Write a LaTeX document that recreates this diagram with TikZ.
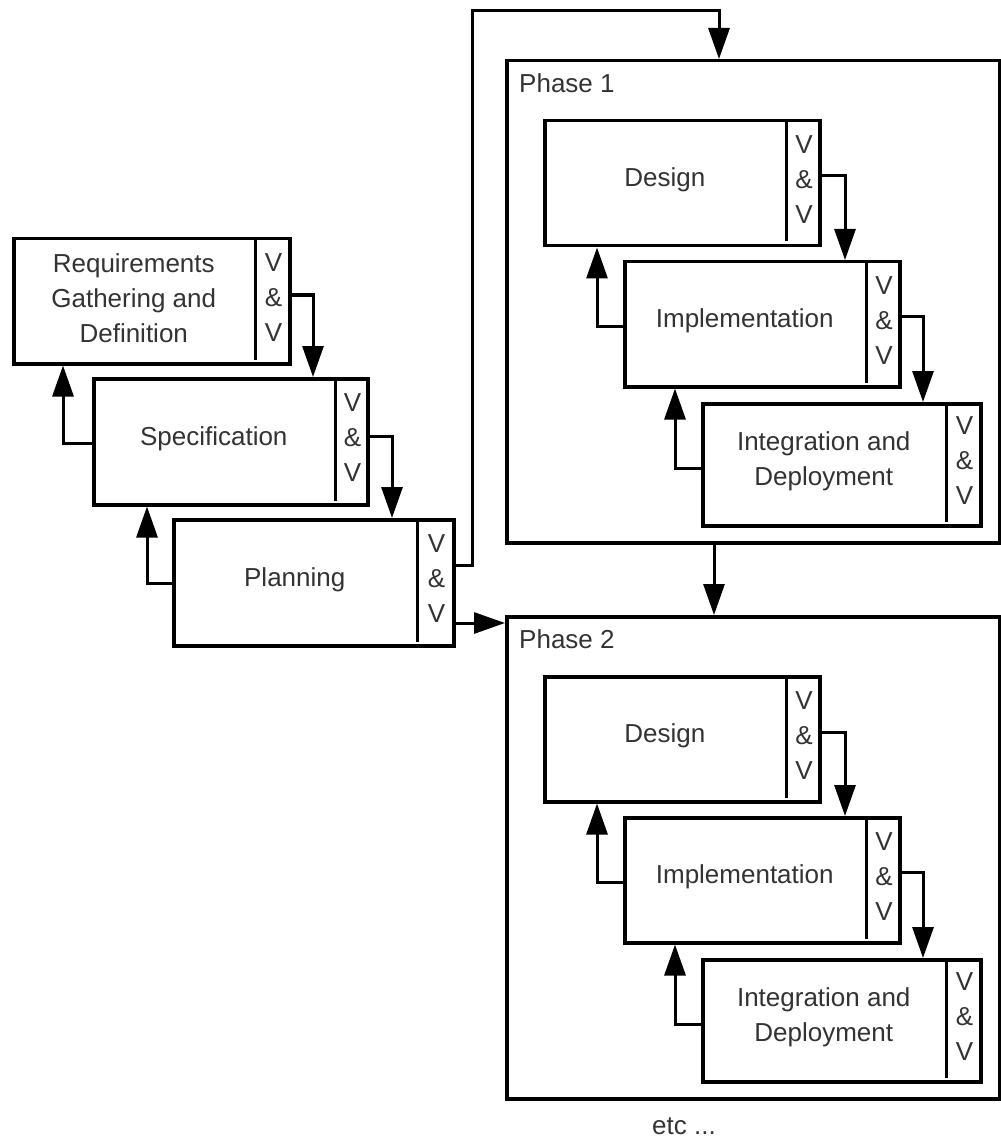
\documentclass[tikz,border=0pt]{standalone}
\usepackage{fontspec}
\setmainfont{Liberation Sans}
\usetikzlibrary{arrows.meta,calc}
\tikzset{
  boxnode/.style={draw, line width=3.5pt, anchor=north west, inner sep=0pt, fill=white},
  phasebox/.style={draw, line width=3.5pt, anchor=north west, inner sep=0pt},
  txt/.style={font=\fontsize{26}{35}\selectfont, text=black!80, align=center, inner sep=0pt},
  divline/.style={line width=3pt},
  conn/.style={line width=3pt, -{Triangle[length=31pt,width=21pt]}},
  plainconn/.style={line width=3pt}
}
\newcommand\vvbox[7]{%
  \node[boxnode, minimum width=#4pt, minimum height=#5pt] (#1) at (#2,#3) {};
  \draw[divline] ($(#1.north east)+(-#6,0)$) -- ($(#1.south east)+(-#6,-6)$);
  \node[txt] (#1-t) at ($(#1.center)+(-#6/2,-3)$) {#7};
  \node[txt] (#1-vv) at ($(#1.east)+(-#6/2,-4)$) {V\\\&\\V};
}
\begin{document}
\begin{tikzpicture}[x=1pt,y=-1pt]
\useasboundingbox (0,0) rectangle (1000,1139);
% phases
\node[phasebox, minimum width=493pt, minimum height=482pt] (ph1) at (505,59) {};
\node[phasebox, minimum width=493pt, minimum height=482pt] (ph2) at (505,615) {};
\node[txt, anchor=west] (ph1lab) at (519,83) {Phase 1};
\node[txt, anchor=west] (ph2lab) at (519,639) {Phase 2};
% left column
\vvbox{req}{12}{237}{276}{125}{36}{Requirements\\Gathering and\\Definition}
\vvbox{spec}{92}{377}{274}{126}{34}{Specification}
\vvbox{plan}{172}{518}{280}{126}{38}{Planning}
% phase boxes
\vvbox{des1}{543}{119}{275}{125}{35}{Design}
\vvbox{imp1}{623}{260}{275}{125}{35}{Implementation}
\vvbox{int1}{701}{402}{278}{122}{36}{Integration and\\Deployment}
\vvbox{des2}{543}{675}{275}{125}{35}{Design}
\vvbox{imp2}{623}{816}{275}{125}{35}{Implementation}
\vvbox{int2}{701}{958}{278}{122}{36}{Integration and\\Deployment}
\node[txt] (etc) at (684,1126) {etc ...};
% left connectors
\draw[conn] ($(req.north east)+(0,58)$) -| ($(spec.north west)+(221,0)$);
\draw[conn] ($(spec.north west)+(0,66)$) -| ($(req.south west)+(51,0)$);
\draw[conn] ($(spec.north east)+(0,59)$) -| ($(plan.north west)+(220,0)$);
\draw[conn] ($(plan.north west)+(0,65)$) -| ($(spec.south west)+(55,0)$);
% planning to phases
\coordinate (bend) at (472,11);
\draw[conn] ($(plan.north east)+(0,47)$) -| (bend) -| ($(ph1.north west)+(214,0)$);
\draw[conn] ($(plan.north east)+(0,105)$) -- (ph2.west |- 0,623);
\draw[conn] ($(ph1.south west)+(209,0)$) -- ($(ph2.north west)+(209,0)$);
% within phases
\foreach \s in {1,2}{
  \draw[conn] ($(des\s.north east)+(0,57)$) -| ($(imp\s.north west)+(222,0)$);
  \draw[conn] ($(imp\s.north west)+(0,66)$) -| ($(des\s.south west)+(54,0)$);
  \draw[conn] ($(imp\s.north east)+(0,56)$) -| ($(int\s.north west)+(222,0)$);
  \draw[conn] ($(int\s.north west)+(0,66)$) -| ($(imp\s.south west)+(52,0)$);
}
\end{tikzpicture}
\end{document}
